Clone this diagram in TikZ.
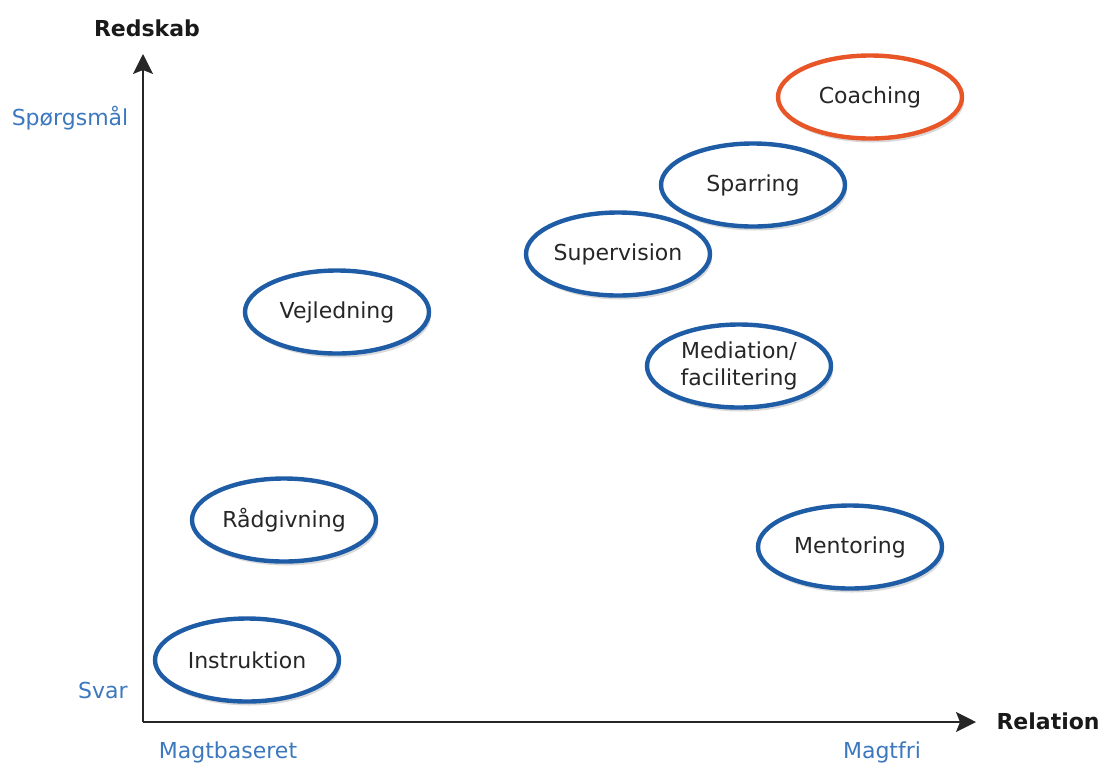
\documentclass[tikz,border=0pt]{standalone}
\usepackage{fontspec}
\setmainfont{DejaVu Sans}
\usetikzlibrary{shapes.geometric,shadows,arrows.meta}
\definecolor{ringblue}{RGB}{30,92,166}
\definecolor{ringorange}{RGB}{232,86,40}
\definecolor{labelblue}{RGB}{60,120,190}

\tikzset{
	every picture/.append style={font=\fontsize{22}{27}\selectfont},
	mynode/.style = {ellipse, draw=ringblue, line width=4.4pt, fill=white, align=center,
		minimum width=184pt, minimum height=83pt, inner sep=0pt, text=black!85,
		drop shadow={opacity=0.3, shadow xshift=2pt, shadow yshift=-4pt}},
	mynoder/.style = {mynode, draw=ringorange},
	myaxis/.style = {draw=black!85, line width=1.5pt, -{Stealth[length=20pt,width=20pt,inset=4pt]}},
	axislabel/.style = {font=\fontsize{22}{26}\selectfont\bfseries, text=black!90},
	endlabel/.style = {text=labelblue}
}

\begin{document}
\begin{tikzpicture}[x=1pt,y=-1pt]
				\useasboundingbox (0,0) rectangle (1105,764);
				\coordinate (O) at (143,722);
				\coordinate (ytip) at (143,54);
				\coordinate (xtip) at (976,722);
				\path (O) edge [myaxis] (ytip);
				\path (O) edge [myaxis] (xtip);
				\node[axislabel] at (147,28) (redskab) {Redskab};
				\node[axislabel,anchor=west] at (993,721) (relation) {Relation};
				\node[endlabel] at (70,118) (sporgsmaal) {Spørgsmål};
				\node[endlabel] at (103,690) (svar) {Svar};
				\node[endlabel] at (228,752) (magtbaseret) {Magtbaseret};
				\node[endlabel] at (882,752) (magtfri) {Magtfri};
				\node[mynoder] at (870,97) (coaching) {Coaching};
				\node[mynode] at (753,185) (sparring) {Sparring};
				\node[mynode] at (618,254) (supervision) {Supervision};
				\node[mynode] at (337,312) (vejledning) {Vejledning};
				\node[mynode] at (739,366) (mediation) {Mediation/\\facilitering};
				\node[mynode] at (284,520) (raadgivning) {Rådgivning};
				\node[mynode] at (850,547) (mentoring) {Mentoring};
				\node[mynode] at (247,660) (instruktion) {Instruktion};
			\end{tikzpicture}
\end{document}
